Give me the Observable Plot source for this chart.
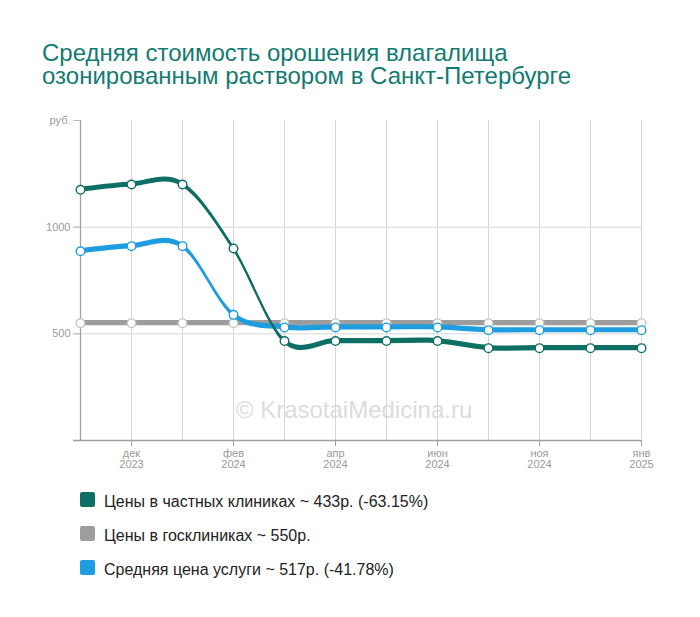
<!DOCTYPE html>
<html>
<head>
<meta charset="utf-8">
<script src="https://cdn.jsdelivr.net/npm/d3@7"></script>
<script src="https://cdn.jsdelivr.net/npm/@observablehq/plot@0.6"></script>
<style>
  html, body { margin: 0; padding: 0; background: #fff; }
  body { width: 700px; height: 617px; position: relative; overflow: hidden; font-family: "Liberation Sans", Arial, sans-serif; }
  .title { position: absolute; left: 42px; font-size: 24px; line-height: 23px; height: 23px; color: #137b71; white-space: nowrap; }
  #chart { position: absolute; left: 0; top: 100px; }
  .lg { position: absolute; left: 80px; font-size: 16px; line-height: 17px; color: #222; }
  .lg .sw { position: absolute; left: 0; top: -1px; width: 15px; height: 15px; border-radius: 2px; }
  .lg .tx { position: absolute; left: 24px; top: 0; white-space: nowrap; }
</style>
</head>
<body>
<div class="title" style="top:41px">Средняя стоимость орошения влагалища</div>
<div class="title" style="top:64px">озонированным раствором в Санкт-Петербурге</div>
<div id="chart"></div>
<div id="legend"></div>
<script>
// Categories (12 equally spaced periods); labels shown on every other one
const periods = [0, 1, 2, 3, 4, 5, 6, 7, 8, 9, 10, 11];
const tickIdx = [1, 3, 5, 7, 9, 11];
const tickLabels = ["дек\n2023", "фев\n2024", "апр\n2024", "июн\n2024", "ноя\n2024", "янв\n2025"];

// Series values (руб.)
const privateClinics = [1175, 1200, 1200, 900, 466, 466, 466, 466, 433, 433, 433, 433];
const stateClinics   = [550, 550, 550, 550, 550, 550, 550, 550, 550, 550, 550, 550];
const averagePrice   = [887, 911, 911, 589, 530, 530, 530, 530, 517, 517, 517, 517];

const seriesNames = [
  "Цены в частных клиниках ~ 433р. (-63.15%)",
  "Цены в госклиниках ~ 550р.",
  "Средняя цена услуги ~ 517р. (-41.78%)"
];
const colors = ["#0e6f65", "#9d9d9d", "#1e9de0"];
const markerStroke = ["#0e6f65", "#c4c4c4", "#1e9de0"];

const series = [privateClinics, stateClinics, averagePrice];
const rows = series.map(vals => periods.map((p, i) => ({p, v: vals[i]})));

const h = 12; // half band thickness in value units

function band(k) {
  return Plot.areaY(rows[k], {x: "p", y1: d => d.v - h, y2: d => d.v + h, fill: colors[k], curve: "cardinal"});
}
function thin(k) {
  return Plot.line(rows[k], {x: "p", y: "v", stroke: colors[k], strokeWidth: 1.6, curve: "cardinal"});
}
function dots(k) {
  return Plot.dot(rows[k], {x: "p", y: "v", r: 4.3, fill: "#fff", stroke: markerStroke[k], strokeWidth: 1.4});
}

const chart = Plot.plot({
  width: 700,
  height: 380,
  marginLeft: 80,
  marginRight: 59,
  marginTop: 20,
  marginBottom: 40,
  style: {fontFamily: "Liberation Sans, Arial, sans-serif", fontSize: "11px", color: "#999", background: "transparent"},
  x: {type: "point", domain: periods, padding: 0},
  y: {domain: [0, 1500]},
  marks: [
    Plot.text(["© KrasotaiMedicina.ru"], {frameAnchor: "bottom", lineAnchor: "bottom", dy: -23, dx: -7, fontSize: 24, fill: "#dcdcdc"}),
    Plot.ruleX(periods.slice(1), {stroke: "#d6d6d6", strokeWidth: 1}),
    Plot.ruleY([500, 1000], {stroke: "#e4e4e4", strokeWidth: 1.5, insetLeft: -7}),
    Plot.ruleX([0], {stroke: "#a0a0a0", strokeWidth: 1.3}),
    Plot.ruleY([0], {stroke: "#a0a0a0", strokeWidth: 1.3, insetLeft: -7}),
    Plot.axisY({ticks: [500, 1000, 1500], tickFormat: d => d === 1500 ? "руб." : String(d), tickSize: 7, tickPadding: 3, stroke: "#bbb", fill: "#999", label: null}),
    Plot.axisX({ticks: tickIdx, tickFormat: i => tickLabels[tickIdx.indexOf(i)], tickSize: 6, tickPadding: 3, stroke: "#a0a0a0", fill: "#999", lineHeight: 1.0, label: null}),
    band(1), thin(1), dots(1),
    band(2), thin(2),
    band(0), thin(0),
    dots(2), dots(0)
  ]
});
document.getElementById("chart").appendChild(chart);

const legend = document.getElementById("legend");
seriesNames.forEach((name, k) => {
  const row = document.createElement("div");
  row.className = "lg";
  row.style.top = (493 + 34 * k) + "px";
  const sw = document.createElement("div");
  sw.className = "sw";
  sw.style.background = colors[k];
  const tx = document.createElement("div");
  tx.className = "tx";
  tx.textContent = name;
  row.appendChild(sw);
  row.appendChild(tx);
  legend.appendChild(row);
});
</script>
</body>
</html>
